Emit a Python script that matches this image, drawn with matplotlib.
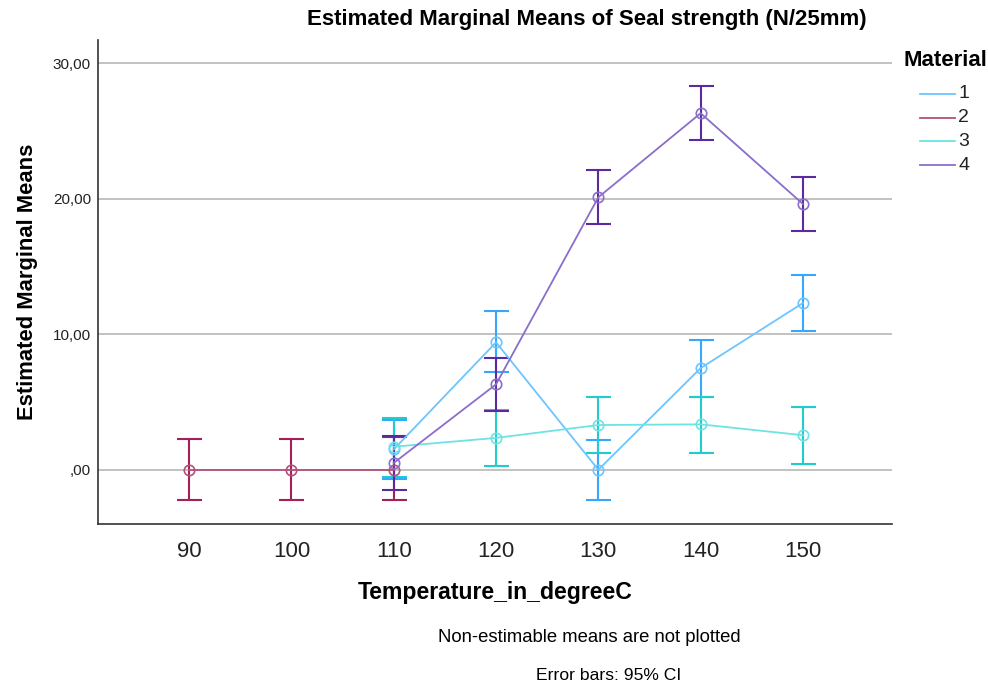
import matplotlib.pyplot as plt
import numpy as np
from matplotlib.lines import Line2D
from matplotlib.ticker import FuncFormatter

plt.rcParams['font.family'] = ['Liberation Sans', 'DejaVu Sans']

temps = [90, 100, 110, 120, 130, 140, 150]
materials = ['1', '2', '3', '4']

# estimated means and 95% CI bounds per material (None = not estimable)
m1_mean = [None, None, 1.5, 9.4, 0.0, 7.5, 12.3]
m1_low = [None, None, -0.7, 7.2, -2.25, 5.4, 10.2]
m1_high = [None, None, 3.7, 11.7, 2.2, 9.6, 14.4]

m2_mean = [0.0, 0.0, 0.0, None, None, None, None]
m2_low = [-2.2, -2.2, -2.25, None, None, None, None]
m2_high = [2.25, 2.25, 2.4, None, None, None, None]

m3_mean = [None, None, 1.7, 2.35, 3.3, 3.35, 2.55]
m3_low = [None, None, -0.5, 0.25, 1.25, 1.25, 0.45]
m3_high = [None, None, 3.85, 4.4, 5.4, 5.4, 4.65]

m4_mean = [None, None, 0.5, 6.3, 20.1, 26.3, 19.6]
m4_low = [None, None, -1.5, 4.3, 18.1, 24.3, 17.6]
m4_high = [None, None, 2.5, 8.25, 22.1, 28.3, 21.6]

line_colors = ['#6cc5ff', '#b4507a', '#6ee3e3', '#8b6dcb']
bar_colors = ['#36a6ff', '#a3205a', '#20cccc', '#5a2a9e']

series = [
    (m1_mean, m1_low, m1_high),
    (m2_mean, m2_low, m2_high),
    (m3_mean, m3_low, m3_high),
    (m4_mean, m4_low, m4_high),
]

W, H = 988, 686
fig = plt.figure(figsize=(W / 100, H / 100), dpi=100)
ax = fig.add_axes([98 / W, 1 - 524 / H, 794 / W, 484 / H])

for (mean, low, high), lc, bc in zip(series, line_colors, bar_colors):
    idx = [i for i, v in enumerate(mean) if v is not None]
    x = np.array([temps[i] for i in idx], dtype=float)
    y = np.array([mean[i] for i in idx])
    lo = np.array([low[i] for i in idx])
    hi = np.array([high[i] for i in idx])
    ax.errorbar(x, y, yerr=[y - lo, hi - y], fmt='none', ecolor=bc,
                elinewidth=1.5, capsize=9, capthick=1.5, zorder=3)
    ax.plot(x, y, color=lc, lw=1.3, marker='o', markersize=7.5,
            markerfacecolor='none', markeredgecolor=lc, markeredgewidth=1.2,
            zorder=4)


def comma_fmt(v, pos):
    s = ('%.2f' % v).replace('.', ',')
    return s[1:] if s.startswith('0') else s


ax.set_xlim(81.1, 158.7)
ax.set_ylim(-4.0, 31.7)
ax.set_xticks(temps)
ax.set_yticks([0, 10, 20, 30])
ax.yaxis.set_major_formatter(FuncFormatter(comma_fmt))
ax.tick_params(axis='x', length=0, labelsize=16, pad=12, colors='#222222')
ax.tick_params(axis='y', length=0, labelsize=11, pad=5, colors='#222222')
ax.grid(axis='y', color='#b8b8b8', lw=1.2, zorder=0)
ax.set_axisbelow(True)
for s in ['top', 'right']:
    ax.spines[s].set_visible(False)
for s in ['left', 'bottom']:
    ax.spines[s].set_color('#333333')
    ax.spines[s].set_linewidth(1.2)

fig.text(587 / W, 1 - 20 / H, 'Estimated Marginal Means of Seal strength (N/25mm)',
         ha='center', va='center', fontsize=16, fontweight='bold')
fig.text(28 / W, 1 - 282 / H, 'Estimated Marginal Means', rotation=90,
         ha='center', va='center', fontsize=15.8, fontweight='bold')
fig.text(495 / W, 1 - 592 / H, 'Temperature_in_degreeC',
         ha='center', va='center', fontsize=16.6, fontweight='bold')
fig.text(589 / W, 1 - 637 / H, 'Non-estimable means are not plotted',
         ha='center', va='center', fontsize=13.3)
fig.text(609 / W, 1 - 676 / H, 'Error bars: 95% CI',
         ha='center', va='center', fontsize=12.6)

# legend drawn by hand: title, then short line + label for each material
fig.text(945 / W, 1 - 61 / H, 'Material', ha='center', va='center',
         fontsize=16, fontweight='bold')
for k, (name, c) in enumerate(zip(materials, line_colors)):
    yy = 1 - (94 + 23.7 * k) / H
    fig.add_artist(Line2D([920 / W, 955 / W], [yy, yy], color=c, lw=1.3,
                          transform=fig.transFigure))
    fig.text(958 / W, yy, name, ha='left', va='center', fontsize=14,
             color='#222222')

fig.savefig('out.png', dpi=100)
